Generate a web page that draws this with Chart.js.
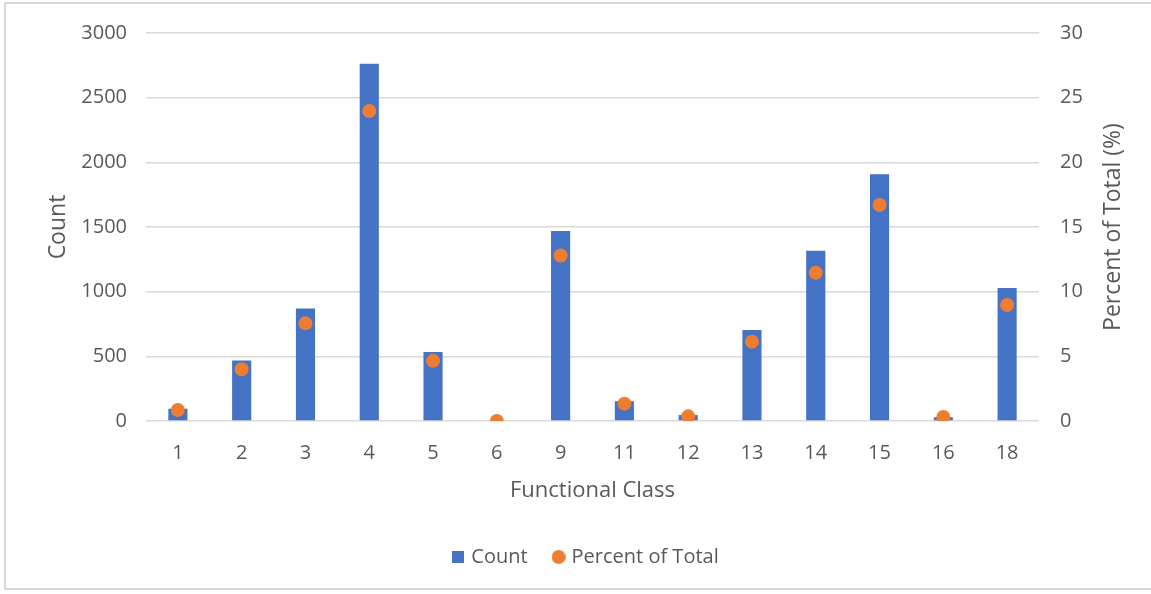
<!DOCTYPE html>
<html>
<head>
<meta charset="utf-8">
<script src="https://cdn.jsdelivr.net/npm/chart.js@4/dist/chart.umd.min.js"></script>
<style>
  html, body { margin: 0; padding: 0; background: #ffffff; }
  #wrap { position: relative; width: 1151px; height: 594px; overflow: hidden; }
  #frame { position: absolute; left: 4px; top: 2px; width: 1170px; height: 588px;
           border: 2px solid #d9d9d9; box-sizing: border-box; }
  #c { position: absolute; left: 0; top: 0; }
</style>
</head>
<body>
<div id="wrap">
  <div id="frame"></div>
  <canvas id="c" width="1151" height="594"></canvas>
</div>
<script>
// Functional classes on the category axis
const classes = ['1', '2', '3', '4', '5', '6', '9', '11', '12', '13', '14', '15', '16', '18'];
// Number of items per class (left axis)
const counts = [95, 468, 869, 2762, 533, 0, 1469, 153, 46, 703, 1316, 1908, 29, 1029];
// Share of the total per class, in percent (right axis)
const percentOfTotal = [0.85, 4.0, 7.55, 23.97, 4.65, 0, 12.8, 1.34, 0.36, 6.13, 11.46, 16.7, 0.31, 8.97];

const countTicks = [0, 500, 1000, 1500, 2000, 2500, 3000];
const percentTicks = [0, 5, 10, 15, 20, 25, 30];

const BLUE = '#4472C4';
const ORANGE = '#ED7D31';
const TEXT = '#595959';
const GRID = '#d9d9d9';
const FAMILY = '"Open Sans", "Noto Sans", sans-serif';
const FONT = { family: FAMILY, size: 20 };
const TITLE_FONT = { family: FAMILY, size: 23 };
const X_TITLE_FONT = { family: FAMILY, size: 22 };

// Small legend markers: a square for the bars, a disc for the points
function marker(kind, size, color) {
  const cv = document.createElement('canvas');
  cv.width = size; cv.height = size;
  const g = cv.getContext('2d');
  g.fillStyle = color;
  if (kind === 'square') {
    g.fillRect(0, 0, size, size);
  } else {
    g.beginPath();
    g.arc(size / 2, size / 2, size / 2, 0, Math.PI * 2);
    g.fill();
  }
  return cv;
}
const squareMarker = marker('square', 12, BLUE);
const discMarker = marker('disc', 14, ORANGE);

// Right-hand axis title, read bottom-to-top
const rightTitle = {
  id: 'rightTitle',
  afterDraw(chart) {
    const t = chart.scales.y1.options.title;
    const { ctx, chartArea } = chart;
    ctx.save();
    ctx.translate(1113, (chartArea.top + chartArea.bottom) / 2);
    ctx.rotate(-Math.PI / 2);
    ctx.font = `${TITLE_FONT.size}px ${FAMILY}`;
    ctx.fillStyle = TEXT;
    ctx.textAlign = 'center';
    ctx.textBaseline = 'middle';
    ctx.fillText(t.text, 0, 0);
    ctx.restore();
  }
};

new Chart(document.getElementById('c'), {
  data: {
    labels: classes,
    datasets: [
      {
        type: 'bar',
        label: 'Count',
        data: counts,
        backgroundColor: BLUE,
        yAxisID: 'y',
        categoryPercentage: 1,
        barPercentage: 0.3,
        order: 1
      },
      {
        type: 'line',
        label: 'Percent of Total',
        data: percentOfTotal,
        showLine: false,
        pointRadius: 7,
        pointBorderWidth: 0,
        pointBackgroundColor: ORANGE,
        pointBorderColor: ORANGE,
        backgroundColor: ORANGE,
        borderColor: ORANGE,
        yAxisID: 'y1',
        order: 0
      }
    ]
  },
  options: {
    responsive: false,
    animation: false,
    layout: { padding: { top: 33, left: 23, right: 0, bottom: 17 } },
    scales: {
      x: {
        grid: { display: false, drawTicks: false },
        border: { display: false },
        ticks: { color: TEXT, font: FONT, padding: 20, maxRotation: 0, autoSkip: false },
        title: { display: true, text: 'Functional Class', color: TEXT, font: X_TITLE_FONT,
                 padding: { top: 0, bottom: 15 } },
        afterFit(s) { s.height = 98; }
      },
      y: {
        position: 'left',
        min: 0, max: 3000,
        afterBuildTicks(s) { s.ticks = countTicks.map(v => ({ value: v })); },
        grid: { color: GRID, lineWidth: 1.5, drawTicks: false },
        border: { display: false },
        ticks: { color: TEXT, font: FONT, padding: 19, callback: v => String(v) },
        title: { display: true, text: 'Count', color: TEXT, font: TITLE_FONT,
                 padding: { top: 22, bottom: 0 } },
        afterFit(s) { s.width = 123; }
      },
      y1: {
        position: 'right',
        min: 0, max: 30,
        afterBuildTicks(s) { s.ticks = percentTicks.map(v => ({ value: v })); },
        grid: { display: false, drawTicks: false },
        border: { display: false },
        ticks: { color: TEXT, font: FONT, padding: 21, callback: v => String(v) },
        title: { display: false, text: 'Percent of Total (%)' },
        afterFit(s) { s.width = 112; }
      }
    },
    plugins: {
      tooltip: { enabled: false },
      legend: {
        position: 'bottom',
        labels: {
          color: TEXT,
          font: FONT,
          usePointStyle: true,
          boxWidth: 6,
          boxHeight: 14,
          padding: 28,
          sort: (a, b) => a.datasetIndex - b.datasetIndex,
          generateLabels(chart) {
            const items = Chart.defaults.plugins.legend.labels.generateLabels(chart);
            items.forEach(it => {
              it.pointStyle = it.datasetIndex === 0 ? squareMarker : discMarker;
              it.fontColor = TEXT;
            });
            return items;
          }
        }
      }
    }
  },
  plugins: [rightTitle]
});
</script>
</body>
</html>
